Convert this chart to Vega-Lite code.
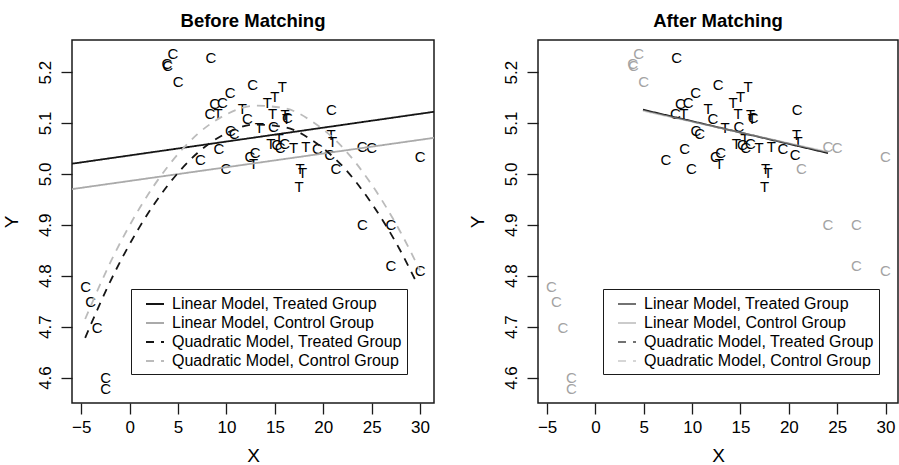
{
  "$schema": "https://vega.github.io/schema/vega-lite/v6.json",
  "background": "white",
  "padding": {"left": 1, "top": 10, "right": 0, "bottom": 0},
  "spacing": 32,
  "datasets": {
    "pts": [
      {"x": 3.85, "y": 5.215, "g": "C", "m": "no"},
      {"x": 3.92, "y": 5.212, "g": "C", "m": "no"},
      {"x": 4.47, "y": 5.236, "g": "C", "m": "no"},
      {"x": 5.0, "y": 5.181, "g": "C", "m": "no"},
      {"x": 24.03, "y": 5.052, "g": "C", "m": "no"},
      {"x": 25.0, "y": 5.051, "g": "C", "m": "no"},
      {"x": 30.0, "y": 5.033, "g": "C", "m": "no"},
      {"x": 21.3, "y": 5.009, "g": "C", "m": "no"},
      {"x": 24.05, "y": 4.9, "g": "C", "m": "no"},
      {"x": 27.0, "y": 4.9, "g": "C", "m": "no"},
      {"x": 27.0, "y": 4.819, "g": "C", "m": "no"},
      {"x": 30.0, "y": 4.809, "g": "C", "m": "no"},
      {"x": -4.55, "y": 4.778, "g": "C", "m": "no"},
      {"x": -4.03, "y": 4.749, "g": "C", "m": "no"},
      {"x": -3.35, "y": 4.698, "g": "C", "m": "no"},
      {"x": -2.48, "y": 4.6, "g": "C", "m": "no"},
      {"x": -2.48, "y": 4.577, "g": "C", "m": "no"},
      {"x": 8.4, "y": 5.227, "g": "C", "m": "yes"},
      {"x": 12.7, "y": 5.175, "g": "C", "m": "yes"},
      {"x": 10.37, "y": 5.158, "g": "C", "m": "yes"},
      {"x": 9.58, "y": 5.14, "g": "C", "m": "yes"},
      {"x": 8.79, "y": 5.138, "g": "C", "m": "yes"},
      {"x": 8.28, "y": 5.117, "g": "C", "m": "yes"},
      {"x": 12.16, "y": 5.107, "g": "C", "m": "yes"},
      {"x": 14.85, "y": 5.092, "g": "C", "m": "yes"},
      {"x": 10.4, "y": 5.085, "g": "C", "m": "yes"},
      {"x": 10.79, "y": 5.078, "g": "C", "m": "yes"},
      {"x": 16.3, "y": 5.11, "g": "C", "m": "yes"},
      {"x": 20.85, "y": 5.125, "g": "C", "m": "yes"},
      {"x": 15.2, "y": 5.057, "g": "C", "m": "yes"},
      {"x": 15.54, "y": 5.05, "g": "C", "m": "yes"},
      {"x": 16.02, "y": 5.058, "g": "C", "m": "yes"},
      {"x": 19.4, "y": 5.048, "g": "C", "m": "yes"},
      {"x": 20.65, "y": 5.038, "g": "C", "m": "yes"},
      {"x": 9.23, "y": 5.049, "g": "C", "m": "yes"},
      {"x": 7.3, "y": 5.028, "g": "C", "m": "yes"},
      {"x": 9.93, "y": 5.009, "g": "C", "m": "yes"},
      {"x": 12.42, "y": 5.033, "g": "C", "m": "yes"},
      {"x": 12.96, "y": 5.042, "g": "C", "m": "yes"},
      {"x": 15.78, "y": 5.171, "g": "T", "m": "yes"},
      {"x": 15.0, "y": 5.151, "g": "T", "m": "yes"},
      {"x": 14.23, "y": 5.14, "g": "T", "m": "yes"},
      {"x": 9.13, "y": 5.118, "g": "T", "m": "yes"},
      {"x": 11.64, "y": 5.127, "g": "T", "m": "yes"},
      {"x": 13.4, "y": 5.091, "g": "T", "m": "yes"},
      {"x": 14.75, "y": 5.117, "g": "T", "m": "yes"},
      {"x": 16.05, "y": 5.115, "g": "T", "m": "yes"},
      {"x": 16.2, "y": 5.108, "g": "T", "m": "yes"},
      {"x": 14.58, "y": 5.058, "g": "T", "m": "yes"},
      {"x": 15.44, "y": 5.069, "g": "T", "m": "yes"},
      {"x": 16.92, "y": 5.05, "g": "T", "m": "yes"},
      {"x": 18.2, "y": 5.052, "g": "T", "m": "yes"},
      {"x": 20.8, "y": 5.077, "g": "T", "m": "yes"},
      {"x": 20.95, "y": 5.063, "g": "T", "m": "yes"},
      {"x": 17.6, "y": 5.009, "g": "T", "m": "yes"},
      {"x": 17.85, "y": 5.001, "g": "T", "m": "yes"},
      {"x": 17.5, "y": 4.975, "g": "T", "m": "yes"},
      {"x": 12.8, "y": 5.02, "g": "T", "m": "yes"}
    ],
    "lines": [
      {"panel": "before", "model": "Linear Model, Treated Group", "x": -6, "y": 5.0199},
      {"panel": "before", "model": "Linear Model, Treated Group", "x": 31.5, "y": 5.1222},
      {"panel": "before", "model": "Linear Model, Control Group", "x": -6, "y": 4.97},
      {"panel": "before", "model": "Linear Model, Control Group", "x": 31.5, "y": 5.071},
      {"panel": "before", "model": "Quadratic Model, Treated Group", "x": -4.6, "y": 4.678},
      {"panel": "before", "model": "Quadratic Model, Treated Group", "x": -2, "y": 4.789},
      {"panel": "before", "model": "Quadratic Model, Treated Group", "x": 1, "y": 4.895},
      {"panel": "before", "model": "Quadratic Model, Treated Group", "x": 4, "y": 4.979},
      {"panel": "before", "model": "Quadratic Model, Treated Group", "x": 7, "y": 5.041},
      {"panel": "before", "model": "Quadratic Model, Treated Group", "x": 10, "y": 5.08},
      {"panel": "before", "model": "Quadratic Model, Treated Group", "x": 13, "y": 5.097},
      {"panel": "before", "model": "Quadratic Model, Treated Group", "x": 16, "y": 5.092},
      {"panel": "before", "model": "Quadratic Model, Treated Group", "x": 19, "y": 5.064},
      {"panel": "before", "model": "Quadratic Model, Treated Group", "x": 22, "y": 5.015},
      {"panel": "before", "model": "Quadratic Model, Treated Group", "x": 25, "y": 4.942},
      {"panel": "before", "model": "Quadratic Model, Treated Group", "x": 28, "y": 4.848},
      {"panel": "before", "model": "Quadratic Model, Treated Group", "x": 29.5, "y": 4.792},
      {"panel": "before", "model": "Quadratic Model, Control Group", "x": -4.6, "y": 4.715},
      {"panel": "before", "model": "Quadratic Model, Control Group", "x": -2, "y": 4.826},
      {"panel": "before", "model": "Quadratic Model, Control Group", "x": 1, "y": 4.932},
      {"panel": "before", "model": "Quadratic Model, Control Group", "x": 4, "y": 5.016},
      {"panel": "before", "model": "Quadratic Model, Control Group", "x": 7, "y": 5.078},
      {"panel": "before", "model": "Quadratic Model, Control Group", "x": 10, "y": 5.117},
      {"panel": "before", "model": "Quadratic Model, Control Group", "x": 13, "y": 5.134},
      {"panel": "before", "model": "Quadratic Model, Control Group", "x": 16, "y": 5.129},
      {"panel": "before", "model": "Quadratic Model, Control Group", "x": 19, "y": 5.101},
      {"panel": "before", "model": "Quadratic Model, Control Group", "x": 22, "y": 5.052},
      {"panel": "before", "model": "Quadratic Model, Control Group", "x": 25, "y": 4.979},
      {"panel": "before", "model": "Quadratic Model, Control Group", "x": 28, "y": 4.885},
      {"panel": "before", "model": "Quadratic Model, Control Group", "x": 30, "y": 4.81},
      {"panel": "after", "model": "Linear Model, Treated Group", "x": 4.92, "y": 5.126},
      {"panel": "after", "model": "Linear Model, Treated Group", "x": 24.05, "y": 5.041},
      {"panel": "after", "model": "Linear Model, Control Group", "x": 4.92, "y": 5.124},
      {"panel": "after", "model": "Linear Model, Control Group", "x": 24.05, "y": 5.043}
    ]
  },
  "hconcat": [
    {
      "width": 362,
      "height": 363,
      "title": {"text": "Before Matching"},
      "layer": [
        {
          "data": {"name": "pts"},
          "mark": {"type": "text", "font": "Liberation Sans", "fontSize": 15, "fill": "black", "align": "center", "baseline": "middle"},
          "encoding": {
            "x": {"field": "x", "type": "quantitative", "scale": {"domain": [-5.96, 31.44], "nice": false, "zero": false}, "axis": {"values": [-5, 0, 5, 10, 15, 20, 25, 30], "title": "X"}},
            "y": {"field": "y", "type": "quantitative", "scale": {"domain": [4.55, 5.263], "nice": false, "zero": false}, "axis": {"values": [4.6, 4.7, 4.8, 4.9, 5.0, 5.1, 5.2], "format": ".1f", "title": "Y"}},
            "text": {"field": "g"}
          }
        },
        {
          "data": {"name": "lines"},
          "transform": [{"filter": "datum.panel === 'before'"}],
          "mark": {"type": "line", "clip": true, "strokeWidth": 1.8, "interpolate": "monotone"},
          "encoding": {
            "x": {"field": "x", "type": "quantitative"},
            "y": {"field": "y", "type": "quantitative"},
            "stroke": {"field": "model", "type": "nominal",
              "scale": {"domain": ["Linear Model, Treated Group", "Linear Model, Control Group", "Quadratic Model, Treated Group", "Quadratic Model, Control Group"], "range": ["#151515", "#aaaaaa", "#151515", "#bbbbbb"]},
              "legend": {"orient": "none", "legendX": 59, "legendY": 249, "title": null}},
            "strokeDash": {"field": "model", "type": "nominal",
              "scale": {"domain": ["Linear Model, Treated Group", "Linear Model, Control Group", "Quadratic Model, Treated Group", "Quadratic Model, Control Group"], "range": [[1, 0], [1, 0], [8, 7], [8, 7]]},
              "legend": {"orient": "none", "legendX": 59, "legendY": 249, "title": null}}
          }
        }
      ]
    },
    {
      "width": 360,
      "height": 363,
      "title": {"text": "After Matching"},
      "layer": [
        {
          "data": {"name": "pts"},
          "mark": {"type": "text", "font": "Liberation Sans", "fontSize": 15, "align": "center", "baseline": "middle"},
          "encoding": {
            "x": {"field": "x", "type": "quantitative", "scale": {"domain": [-5.94, 31.29], "nice": false, "zero": false}, "axis": {"values": [-5, 0, 5, 10, 15, 20, 25, 30], "title": "X"}},
            "y": {"field": "y", "type": "quantitative", "scale": {"domain": [4.55, 5.263], "nice": false, "zero": false}, "axis": {"values": [4.6, 4.7, 4.8, 4.9, 5.0, 5.1, 5.2], "format": ".1f", "title": "Y"}},
            "text": {"field": "g"},
            "fill": {"field": "m", "type": "nominal", "scale": {"domain": ["yes", "no"], "range": ["black", "#a3a3a3"]}, "legend": null}
          }
        },
        {
          "data": {"name": "lines"},
          "transform": [{"filter": "datum.panel === 'after' && datum.model === 'Linear Model, Treated Group'"}],
          "mark": {"type": "line", "clip": true, "strokeWidth": 1.8},
          "encoding": {
            "x": {"field": "x", "type": "quantitative"},
            "y": {"field": "y", "type": "quantitative"},
            "stroke": {"field": "model", "type": "nominal",
              "scale": {"domain": ["Linear Model, Treated Group", "Linear Model, Control Group", "Quadratic Model, Treated Group", "Quadratic Model, Control Group"], "range": ["#151515", "#aaaaaa", "#151515", "#bbbbbb"]},
              "legend": {"orient": "none", "legendX": 65, "legendY": 249, "title": null}},
            "strokeDash": {"field": "model", "type": "nominal",
              "scale": {"domain": ["Linear Model, Treated Group", "Linear Model, Control Group", "Quadratic Model, Treated Group", "Quadratic Model, Control Group"], "range": [[1, 0], [1, 0], [8, 7], [8, 7]]},
              "legend": {"orient": "none", "legendX": 65, "legendY": 249, "title": null}}
          }
        },
        {
          "data": {"name": "lines"},
          "transform": [{"filter": "datum.panel === 'after' && datum.model === 'Linear Model, Control Group'"}],
          "mark": {"type": "line", "clip": true, "strokeWidth": 1.8, "opacity": 0.6},
          "encoding": {
            "x": {"field": "x", "type": "quantitative"},
            "y": {"field": "y", "type": "quantitative"},
            "stroke": {"field": "model", "type": "nominal"},
            "strokeDash": {"field": "model", "type": "nominal"}
          }
        }
      ]
    }
  ],
  "resolve": {
    "scale": {"x": "independent", "y": "independent", "stroke": "independent", "strokeDash": "independent", "fill": "independent"},
    "legend": {"stroke": "independent", "strokeDash": "independent"}
  },
  "config": {
    "view": {"stroke": "#1a1a1a", "strokeWidth": 1.5},
    "axis": {
      "domain": false, "grid": false,
      "tickColor": "#1a1a1a", "tickSize": 11, "tickWidth": 1.3,
      "labelFont": "Liberation Sans", "labelFontSize": 17, "labelColor": "black", "labelPadding": 7,
      "labelFlush": false, "labelOverlap": false,
      "titleFont": "Liberation Sans", "titleFontSize": 19, "titleFontWeight": "normal", "titleColor": "black"
    },
    "axisX": {"labelPadding": 5, "titlePadding": 11},
    "axisY": {"labelAngle": -90, "labelAlign": "center", "labelBaseline": "bottom", "labelPadding": 7, "titlePadding": 15},
    "legend": {
      "strokeColor": "#1a1a1a", "fillColor": "white", "padding": 5, "cornerRadius": 0,
      "symbolType": "stroke", "symbolSize": 324, "symbolStrokeWidth": 1.8, "symbolOffset": 9,
      "labelFont": "Liberation Sans", "labelFontSize": 16, "labelColor": "black", "labelLimit": 400, "labelOffset": 7,
      "rowPadding": 1
    },
    "title": {"font": "Liberation Sans", "fontSize": 18.5, "fontWeight": "bold", "color": "black", "offset": 10}
  }
}
